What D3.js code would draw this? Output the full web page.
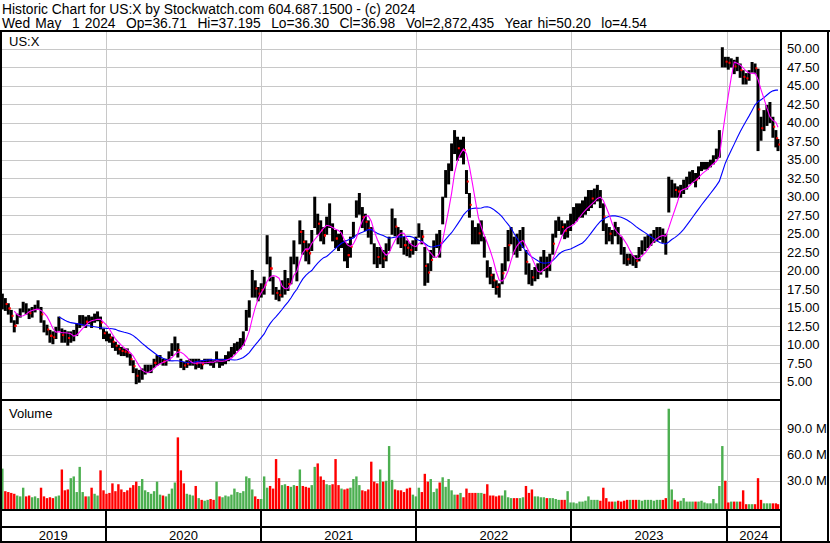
<!DOCTYPE html>
<html>
<head>
<meta charset="utf-8">
<script src="https://cdn.jsdelivr.net/npm/d3@7"></script>
<style>
body { margin: 0; background: #fff; }
svg { display: block; font-family: "Liberation Sans", Arial, sans-serif; }
</style>
</head>
<body>
<script>
// weekly bars (week ending Friday, first week 2019-05-03)
var weekHigh = [16.9,16.3,15.6,14.7,13.3,14.2,14.9,15.8,15.6,14.9,15.1,15.4,16.0,15.1,13.3,12.7,12.0,11.8,12.4,13.8,
  12.2,12.0,11.8,11.8,12.0,12.9,14.0,14.0,13.8,14.0,13.8,14.2,14.5,13.8,12.2,11.8,11.5,11.1,10.4,10.0,
  9.7,9.5,9.5,8.8,7.9,6.8,6.6,6.8,7.3,7.3,7.3,8.1,8.6,8.6,8.1,8.1,9.1,10.2,11.1,10.2,
  8.1,7.7,7.9,8.1,8.1,8.1,8.1,7.9,8.1,8.1,8.1,7.9,9.1,8.1,8.1,8.6,9.1,9.7,10.2,10.4,
  10.9,11.8,14.7,16.0,20.1,18.7,17.8,18.3,19.2,24.8,21.9,19.2,17.8,17.4,18.7,20.1,19.0,21.9,24.1,21.9,
  26.8,25.5,24.1,23.7,25.5,30.0,27.7,26.8,25.9,27.3,29.1,26.4,25.5,25.0,25.5,24.1,23.7,24.6,26.6,29.5,
  30.5,28.6,27.7,26.8,25.9,23.7,23.2,23.2,22.8,23.7,24.6,28.4,27.1,25.9,25.5,24.6,24.1,23.7,24.1,24.6,
  26.4,25.5,23.2,21.0,22.8,24.1,25.0,25.5,30.0,33.6,34.5,37.2,39.0,38.1,37.7,38.1,33.6,30.5,26.8,25.9,
  26.4,26.8,24.6,21.4,20.5,19.6,18.7,18.3,21.0,23.2,25.5,25.9,24.6,25.0,25.5,25.9,22.8,21.0,20.1,20.5,
  21.0,21.9,22.8,21.9,22.3,25.0,26.8,27.3,26.8,26.4,26.8,27.7,28.6,29.1,29.1,29.5,30.0,30.9,30.9,31.1,
  31.6,30.9,29.1,26.4,25.9,25.5,26.6,25.9,24.6,23.2,22.3,22.3,22.1,22.1,23.2,24.1,24.6,24.8,25.0,25.5,
  25.9,25.9,25.7,25.0,32.7,32.3,31.8,31.4,31.6,32.3,32.7,33.4,33.6,33.2,34.1,34.7,34.7,34.7,35.0,35.6,
  36.5,39.0,50.2,48.9,48.9,48.7,48.5,48.9,48.0,47.1,46.7,47.1,48.2,48.0,47.3,40.8,41.7,42.4,42.8,40.8,
  39.0,37.8];
var weekLow = [14.9,14.7,14.2,13.1,11.8,12.9,13.8,14.5,14.2,13.6,13.8,14.5,14.9,13.1,11.8,11.4,10.4,10.2,10.9,12.0,
  10.4,10.4,10.0,10.4,10.6,11.3,12.4,12.7,12.4,12.9,12.4,13.1,13.3,12.2,10.9,10.6,10.4,9.7,9.3,8.8,
  8.6,8.6,8.4,7.3,6.3,4.8,5.0,5.4,6.1,6.3,6.3,7.0,7.3,7.5,7.3,7.3,7.9,8.6,9.3,8.4,
  7.0,6.7,7.0,7.3,7.3,6.8,7.0,6.8,7.5,7.5,7.3,7.0,7.7,7.0,7.3,7.5,7.9,8.4,8.8,9.3,
  9.5,10.0,12.0,13.8,16.5,16.5,16.0,16.5,16.9,21.0,18.7,16.9,16.2,16.0,16.5,16.9,17.4,18.3,21.0,18.7,
  23.7,22.3,21.4,21.0,22.8,25.9,25.0,24.1,23.7,25.0,25.9,24.1,23.2,22.8,23.2,21.4,20.5,21.9,24.6,27.3,
  27.7,25.9,25.5,24.6,23.7,21.0,20.5,21.0,20.5,21.4,22.8,25.0,24.8,23.7,23.2,22.3,22.1,21.9,22.3,22.8,
  24.6,23.7,18.1,18.5,20.1,21.9,23.2,21.9,26.4,30.0,31.8,33.6,35.9,35.0,35.4,34.5,30.5,27.3,23.7,23.7,
  23.7,24.1,21.9,19.2,18.3,17.8,16.9,16.5,18.3,20.1,21.4,23.7,22.3,21.9,22.8,23.2,19.6,18.3,18.1,18.7,
  19.0,19.6,20.1,19.2,20.1,22.3,24.6,25.5,25.0,24.4,24.6,25.5,26.4,26.8,27.3,27.3,27.7,28.2,28.6,29.1,
  29.5,28.6,25.5,23.7,24.1,23.7,24.8,23.7,22.3,21.0,20.8,21.0,20.8,20.5,21.4,22.3,22.8,23.2,23.5,23.9,
  24.1,24.3,23.9,22.3,28.0,30.0,30.0,30.0,30.0,30.5,31.1,31.8,32.0,31.4,32.5,33.6,33.8,33.8,34.1,34.5,
  35.2,35.4,47.6,47.6,47.3,47.6,46.7,47.1,46.2,45.3,45.3,45.8,46.9,46.7,36.3,37.7,39.0,39.7,40.1,38.1,
  36.8,36.3];
// volume in millions of shares
var weekVol = [44,18,17,16,15,13,12,22,12,13,11,12,10,22,12,10,11,10,12,13,
  43,19,20,33,35,17,46,17,12,12,22,15,13,42,19,15,16,27,18,26,
  20,17,19,22,25,29,24,32,19,17,15,18,29,14,13,12,15,21,28,80,
  42,27,15,14,13,24,10,8,7,8,9,8,29,12,11,13,12,14,21,17,
  16,18,35,33,20,12,9,9,35,22,24,21,55,33,25,26,24,23,25,24,
  43,24,23,22,25,46,50,35,31,26,25,26,55,25,21,20,21,22,32,35,
  25,19,18,20,52,29,27,43,29,30,70,31,20,19,19,17,21,22,14,12,
  22,17,38,29,32,17,21,28,34,23,32,19,14,14,16,11,21,16,16,16,
  16,16,15,26,13,13,12,13,13,19,11,10,10,10,10,11,24,16,20,12,
  12,11,11,10,10,10,9,8,8,8,18,5,5,4,6,6,7,12,8,8,
  8,7,22,10,6,6,6,7,6,7,8,8,8,8,8,7,8,8,8,7,
  8,8,8,10,113,20,8,6,7,10,6,6,6,6,6,7,5,4,4,9,
  4,24,70,30,5,6,6,6,6,19,3,3,3,3,33,8,4,4,4,4,
  4,3];

var priceTicks = [5,7.5,10,12.5,15,17.5,20,22.5,25,27.5,30,32.5,35,37.5,40,42.5,45,47.5,50];
var volTicks = [30,60,90];
var years = [2019,2020,2021,2022,2023,2024];
var headLine1 = "Historic Chart for US:X by Stockwatch.com 604.687.1500 - (c) 2024";
var headLine2 = "Wed May  1 2024  Op=36.71  Hi=37.195  Lo=36.30  Cl=36.98  Vol=2,872,435  Year hi=50.20  lo=4.54";

var firstWeek = new Date(2019, 4, 3),
    lastDay = new Date(2024, 4, 1);
var dates = weekHigh.map(function(d, i) {
  var t = d3.timeDay.offset(firstWeek, 7 * i);
  return t > lastDay ? lastDay : t;
});

// mid of each week stands in for the close
var mids = weekHigh.map(function(h, i) { return (h + weekLow[i]) / 2; });
function sma(vals, n) {
  return vals.map(function(v, i) { return i < n - 1 ? null : d3.mean(vals.slice(i - n + 1, i + 1)); });
}
var maShort = sma(mids, 5),
    maLong = sma(mids, 20);

//positioning/sizing
var W = 830, H = 543,
    plotL = 1, plotR = 781,
    priceTop = 32, priceBot = 399,
    volTop = 402, volBot = 510,
    rowMid = 527, rowBot = 542,
    axisR = 829;

var x = d3.scaleTime().domain([new Date(2019, 4, 1), lastDay]).range([1.5, 778]),
    y = d3.scaleLinear().domain([5, 50]).range([381.7, 48.7]),
    yv = d3.scaleLinear().domain([0, 90]).range([506.8, 428.7]);

var svg = d3.select("body").append("svg")
    .attr("width", W)
    .attr("height", H);

svg.append("rect").attr("width", W).attr("height", H).attr("fill", "#fff");

// header
svg.append("text").attr("x", 2).attr("y", 14).attr("font-size", "13.8px").text(headLine1);
svg.append("text").attr("x", 2).attr("y", 27.5).attr("font-size", "13.8px")
   .attr("word-spacing", "1.4px")
   .style("white-space", "pre").text(headLine2);

var grid = svg.append("g").attr("stroke", "#c8c8c8").attr("stroke-width", 1);

// horizontal price grid
grid.selectAll(".hp").data(priceTicks).enter().append("line")
    .attr("x1", plotL).attr("x2", plotR)
    .attr("y1", d => Math.round(y(d)) + 0.5).attr("y2", d => Math.round(y(d)) + 0.5);
grid.selectAll(".hv").data(volTicks).enter().append("line")
    .attr("x1", plotL).attr("x2", plotR)
    .attr("y1", d => Math.round(yv(d)) + 0.5).attr("y2", d => Math.round(yv(d)) + 0.5);

// year boundaries
var yearStarts = years.slice(1).map(yr => new Date(yr, 0, 1));
grid.selectAll(".vp").data(yearStarts).enter().append("line")
    .attr("x1", d => Math.round(x(d)) + 0.5).attr("x2", d => Math.round(x(d)) + 0.5)
    .attr("y1", priceTop).attr("y2", volBot);

svg.append("clipPath").attr("id", "clipP").append("rect")
   .attr("x", plotL).attr("y", priceTop).attr("width", plotR - plotL - 1).attr("height", priceBot - priceTop);
svg.append("clipPath").attr("id", "clipV").append("rect")
   .attr("x", plotL).attr("y", volTop).attr("width", plotR - plotL - 1).attr("height", volBot - volTop);

// price bars
var pg = svg.append("g").attr("clip-path", "url(#clipP)");
pg.selectAll(".bar").data(weekHigh).enter().append("line")
  .attr("x1", (d, i) => x(dates[i])).attr("x2", (d, i) => x(dates[i]))
  .attr("y1", d => y(d)).attr("y2", (d, i) => y(weekLow[i]) + 1)
  .attr("stroke", "#000").attr("stroke-width", 3);

// close ticks on down weeks
pg.selectAll(".cl").data(mids).enter()
  .filter((d, i) => i > 0 && d < mids[i - 1])
  .append("rect")
  .attr("x", function(d) { return x(dates[mids.indexOf(d)]) + 0.3; })
  .attr("y", d => y(d) - 1)
  .attr("width", 2).attr("height", 2).attr("fill", "#f00");

var line = d3.line()
    .defined(d => d != null)
    .x((d, i) => x(dates[i]))
    .y(d => y(d));

pg.append("path").datum(maLong).attr("d", line)
  .attr("fill", "none").attr("stroke", "#0000ff").attr("stroke-width", 1.1);
pg.append("path").datum(maShort).attr("d", line)
  .attr("fill", "none").attr("stroke", "#ff00ff").attr("stroke-width", 1.1);

// volume
var vg = svg.append("g").attr("clip-path", "url(#clipV)");
vg.selectAll(".vol").data(weekVol).enter().append("rect")
  .attr("x", (d, i) => x(dates[i]) - 1.2)
  .attr("width", 2.4)
  .attr("y", d => yv(d))
  .attr("height", d => volBot - yv(d))
  .attr("fill", (d, i) => (i == 0 || mids[i] >= mids[i - 1]) ? "#4caf50" : "#ff0000");

// labels
svg.append("text").attr("x", 9).attr("y", 46).attr("font-size", "13px").text("US:X");
svg.append("text").attr("x", 9).attr("y", 417.5).attr("font-size", "13px").text("Volume");

var axisP = d3.axisRight(y).tickValues(priceTicks).tickFormat(d3.format(".2f")).tickSize(0).tickPadding(6);
var gp = svg.append("g").attr("transform", "translate(" + plotR + ",0)").call(axisP);
var axisV = d3.axisRight(yv).tickValues(volTicks).tickFormat(d => d.toFixed(1) + " M").tickSize(0).tickPadding(6);
var gv = svg.append("g").attr("transform", "translate(" + plotR + ",0)").call(axisV);
[gp, gv].forEach(function(g) {
  g.select(".domain").remove();
  g.selectAll("text").attr("font-size", "13px").attr("font-family", "Liberation Sans, Arial, sans-serif").attr("fill", "#000");
});

// year row
var yearEdges = [plotL].concat(yearStarts.map(d => x(d))).concat([plotR]);
svg.selectAll(".yr").data(years).enter().append("text")
   .attr("x", (d, i) => (yearEdges[i] + yearEdges[i + 1]) / 2)
   .attr("y", 540)
   .attr("text-anchor", "middle")
   .attr("font-size", "13px")
   .text(d => d);

// frame
var fr = svg.append("g").attr("stroke", "#000").attr("stroke-width", 2).attr("fill", "none");
fr.append("line").attr("x1", 0).attr("x2", W).attr("y1", 31).attr("y2", 31);
fr.append("line").attr("x1", 1).attr("x2", 1).attr("y1", 31).attr("y2", H);
fr.append("line").attr("x1", plotR).attr("x2", plotR).attr("y1", 31).attr("y2", H);
fr.append("line").attr("x1", axisR - 1).attr("x2", axisR - 1).attr("y1", 31).attr("y2", H);
fr.append("line").attr("x1", 0).attr("x2", W).attr("y1", 542).attr("y2", 542);
fr.append("line").attr("x1", 0).attr("x2", plotR).attr("y1", 400).attr("y2", 400);
fr.append("line").attr("x1", 0).attr("x2", plotR).attr("y1", volBot).attr("y2", volBot);
fr.append("line").attr("x1", 0).attr("x2", plotR).attr("y1", rowMid).attr("y2", rowMid);
fr.selectAll(".ys").data(yearStarts).enter().append("line")
  .attr("x1", d => Math.round(x(d))).attr("x2", d => Math.round(x(d)))
  .attr("y1", volBot).attr("y2", H);
</script>
</body>
</html>
